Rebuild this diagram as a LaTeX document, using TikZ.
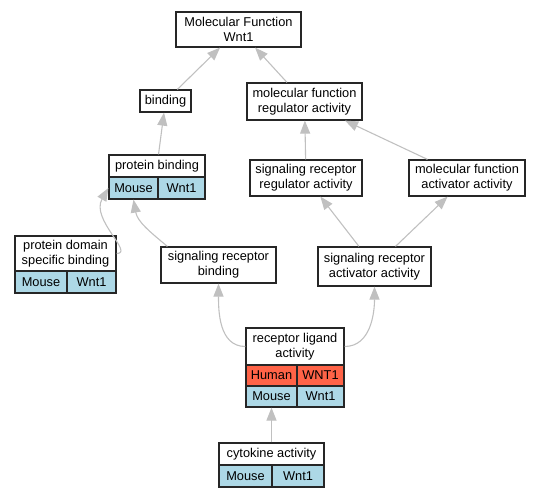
\documentclass[tikz,border=0pt]{standalone}
\usepackage{fontspec}
\setmainfont{Liberation Sans}
\usetikzlibrary{arrows.meta}
\definecolor{mouseblue}{RGB}{173,216,230}
\definecolor{humanred}{RGB}{255,99,71}
\definecolor{edgegray}{RGB}{192,192,192}
\begin{document}
\begin{tikzpicture}[x=1pt, y=-1pt,
    term/.style={draw=black!85, line width=1.2pt, align=center, inner sep=0pt,
      font=\fontsize{12.8}{15}\selectfont},
    mouse/.style={term, fill=mouseblue},
    human/.style={term, fill=humanred},
    isa/.style={draw=edgegray, line width=1.1pt, -{Triangle[length=13pt,width=10pt]}}]
  \useasboundingbox (0,0) rectangle (540,499);
  % terms
  \node[term, minimum width=125, minimum height=35] (mf) at (238.5,29.5) {Molecular Function\\Wnt1};
  \node[term, minimum width=51, minimum height=22] (bind) at (165.5,101) {binding};
  \node[term, minimum width=115, minimum height=37] (mfra) at (304.5,101.5) {molecular function\\regulator activity};
  \node[term, minimum width=96, minimum height=22] (pb) at (157,166) {protein binding};
  \node[mouse, minimum width=49, minimum height=22] (pbm) at (133.5,188) {Mouse};
  \node[mouse, minimum width=47, minimum height=22] (pbw) at (181.5,188) {Wnt1};
  \node[term, minimum width=112, minimum height=36] (srra) at (306,178) {signaling receptor\\regulator activity};
  \node[term, minimum width=116, minimum height=36] (mfaa) at (467,178) {molecular function\\activator activity};
  \node[term, minimum width=101, minimum height=35] (pdsb) at (65.5,253.5) {protein domain\\specific binding};
  \node[mouse, minimum width=52, minimum height=22] (pdsbm) at (41,282) {Mouse};
  \node[mouse, minimum width=49, minimum height=22] (pdsbw) at (91.5,282) {Wnt1};
  \node[term, minimum width=115, minimum height=36] (srb) at (218.5,265) {signaling receptor\\binding};
  \node[term, minimum width=113, minimum height=39] (sraa) at (374.5,266.5) {signaling receptor\\activator activity};
  \node[term, minimum width=98, minimum height=37] (rla) at (295,346.5) {receptor ligand\\activity};
  \node[human, minimum width=51, minimum height=21] (rlah) at (271.5,375.5) {Human};
  \node[human, minimum width=47, minimum height=21] (rlahw) at (320.5,375.5) {WNT1};
  \node[mouse, minimum width=51, minimum height=21] (rlam) at (271.5,396.5) {Mouse};
  \node[mouse, minimum width=47, minimum height=21] (rlamw) at (320.5,396.5) {Wnt1};
  \node[term, minimum width=105, minimum height=22] (cyt) at (271.5,454) {cytokine activity};
  \node[mouse, minimum width=53, minimum height=22] (cytm) at (245.5,476) {Mouse};
  \node[mouse, minimum width=52, minimum height=22] (cytw) at (298,476) {Wnt1};
  % is-a links
  \draw[isa] (bind) -- (mf);
  \draw[isa] (mfra) -- (mf);
  \draw[isa] (pb) -- (bind);
  \draw[isa] (srra) -- (mfra);
  \draw[isa] (mfaa) -- (mfra);
  \draw[isa] (sraa) -- (srra);
  \draw[isa] (sraa) -- (mfaa);
  \draw[isa] (pdsb.east) to[out=0, in=-120, out distance=18pt, in distance=36pt] (pbm.west);
  \draw[isa] (srb.160) to[out=140, in=-80] (pbm.south);
  \draw[isa] (rla.west) to[out=180, in=-90] (srb.south);
  \draw[isa] (rla.east) to[out=0, in=-90] (sraa.south);
  \draw[isa] (cyt) -- (rlam);
\end{tikzpicture}
\end{document}
